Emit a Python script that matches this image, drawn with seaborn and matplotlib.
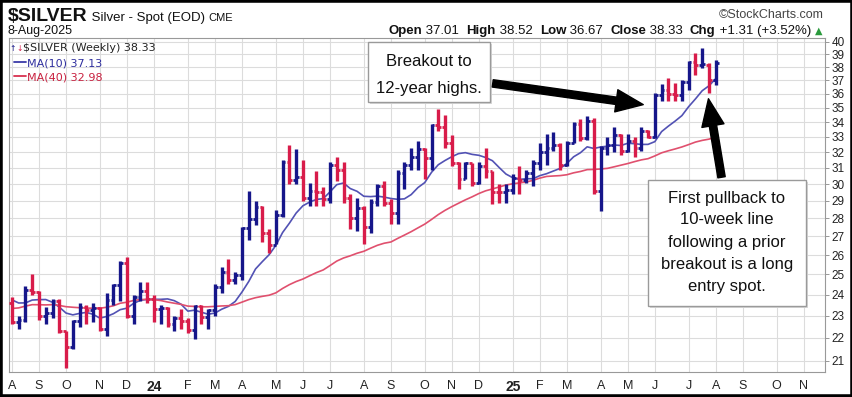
# Silver weekly OHLC chart with 10/40-week moving averages (StockCharts style)
import numpy as np
import pandas as pd
import matplotlib
matplotlib.use('Agg')
import matplotlib.pyplot as plt
import matplotlib.dates as mdates
from matplotlib.patches import Rectangle, FancyArrowPatch
from matplotlib.lines import Line2D
from matplotlib.ticker import FixedLocator, FuncFormatter, NullLocator
import seaborn as sns

# ---- data (weekly bars, Friday dates, 11-Aug-2023 .. 8-Aug-2025) ----
first_week = '2023-08-11'

opens = [23.60, 22.70, 22.80, 24.25, 24.15, 23.00, 23.15, 23.70, 22.30, 21.60,
         22.75, 23.40, 23.25, 23.35, 22.40, 23.75, 24.45, 25.60, 23.00, 23.90,
         24.20, 23.80, 23.30, 23.35, 22.60, 22.90, 22.75, 22.35, 23.45, 22.95,
         23.25, 24.35, 25.10, 24.70, 24.95, 27.45, 27.95, 28.65, 27.20, 26.55,
         28.20, 31.35, 30.25, 30.45, 29.15, 29.60, 29.50, 29.10, 31.20, 30.90,
         29.20, 28.00, 28.60, 27.50, 28.95, 29.90, 28.90, 28.30, 30.70, 31.20,
         31.70, 32.20, 31.60, 33.80, 33.70, 32.60, 31.30, 30.30, 31.30, 30.10,
         31.10, 30.80, 29.55, 29.50, 29.65, 30.35, 30.25, 30.70, 31.30, 32.00,
         32.30, 32.45, 31.20, 32.60, 33.90, 32.95, 34.10, 29.60, 32.30, 32.50,
         33.10, 32.10, 32.70, 32.30, 33.40, 33.00, 35.90, 36.30, 36.00, 35.95,
         36.90, 38.40, 38.20, 38.20, 37.01]

highs = [23.9, 23.0, 24.4, 25.0, 24.2, 23.4, 23.8, 23.8, 22.3, 22.8,
         23.6, 23.5, 23.6, 23.4, 24.1, 24.5, 25.7, 25.9, 24.0, 24.6,
         24.6, 24.0, 23.5, 23.4, 23.0, 23.3, 22.9, 23.5, 23.5, 23.3,
         24.5, 25.4, 25.8, 25.1, 27.5, 29.6, 29.0, 28.7, 27.4, 28.5,
         31.5, 32.5, 32.2, 31.5, 30.1, 30.8, 29.8, 31.4, 31.7, 31.4,
         29.4, 29.2, 28.7, 29.1, 30.0, 30.2, 29.1, 30.9, 31.4, 32.3,
         32.7, 32.3, 33.9, 34.9, 34.5, 33.1, 31.4, 31.4, 31.3, 31.4,
         32.3, 30.8, 30.0, 30.0, 30.6, 31.1, 30.9, 31.5, 32.6, 33.2,
         33.3, 32.6, 32.7, 34.0, 34.2, 34.4, 34.3, 32.4, 33.0, 33.7,
         33.2, 33.2, 33.0, 33.7, 33.5, 36.1, 36.7, 37.2, 36.8, 37.0,
         38.5, 39.1, 39.5, 38.3, 38.52]

lows = [22.6, 22.4, 22.7, 24.0, 22.8, 22.6, 22.9, 22.2, 20.7, 21.5,
        22.5, 22.6, 22.7, 22.3, 22.1, 23.5, 23.7, 22.9, 22.6, 23.7,
        23.6, 22.7, 22.6, 22.5, 22.3, 22.4, 22.2, 21.95, 22.6, 22.4,
        23.0, 24.1, 24.5, 24.5, 24.7, 26.8, 27.6, 26.7, 26.1, 26.6,
        28.1, 30.0, 30.0, 29.0, 28.7, 28.7, 28.7, 28.9, 30.2, 28.9,
        27.4, 27.3, 26.6, 27.2, 28.7, 28.7, 27.7, 27.7, 29.7, 30.9,
        30.9, 30.3, 30.9, 33.4, 32.3, 31.1, 29.7, 30.3, 29.9, 30.0,
        30.4, 28.8, 28.9, 28.9, 29.4, 29.4, 30.1, 29.9, 30.9, 31.2,
        32.1, 30.9, 31.1, 32.6, 32.7, 32.8, 29.4, 28.4, 31.8, 32.0,
        31.8, 32.0, 31.7, 32.1, 32.9, 32.9, 35.5, 35.5, 35.5, 35.5,
        36.3, 37.4, 37.9, 36.1, 36.67]

closes = [22.70, 22.80, 24.25, 24.15, 23.00, 23.15, 23.70, 22.30, 21.60, 22.75,
          23.40, 23.25, 23.35, 22.40, 23.75, 24.45, 25.60, 23.00, 23.90, 24.20,
          23.80, 23.30, 23.35, 22.60, 22.90, 22.75, 22.35, 23.45, 22.95, 23.25,
          24.35, 25.10, 24.70, 24.95, 27.45, 27.95, 28.65, 27.20, 26.55, 28.20,
          31.35, 30.25, 30.45, 29.15, 29.60, 29.50, 29.10, 31.20, 30.90, 29.20,
          28.00, 28.60, 27.50, 28.95, 29.90, 28.90, 28.30, 30.70, 31.20, 31.70,
          32.20, 31.60, 33.80, 33.70, 32.60, 31.30, 30.30, 31.30, 30.10, 31.10,
          30.80, 29.55, 29.50, 29.65, 30.35, 30.25, 30.70, 31.30, 32.00, 32.30,
          32.45, 31.20, 32.60, 33.90, 32.95, 34.10, 29.60, 32.30, 32.50, 33.10,
          32.10, 32.70, 32.30, 33.40, 33.00, 35.90, 36.30, 36.00, 35.95, 36.90,
          38.40, 38.20, 38.25, 37.02, 38.33]

# closes of the 39 weeks before the first bar (only needed for the averages)
prior_closes = [21.7, 20.9, 21.4, 23.1, 23.5, 23.2, 23.8, 24.0, 23.8, 24.3,
                23.9, 23.6, 22.4, 22.0, 21.6, 20.8, 21.0, 20.5, 22.6, 23.2,
                24.1, 25.0, 25.4, 25.2, 25.0, 25.6, 24.0, 23.7, 23.2, 23.6,
                24.3, 24.2, 22.8, 22.8, 23.1, 25.0, 24.6, 24.4, 23.6]

y_ticks = list(range(21, 41))
month_letters = ['J', 'F', 'M', 'A', 'M', 'J', 'J', 'A', 'S', 'O', 'N', 'D']

header_left = [('\\$SILVER', 14, 'bold'), (' Silver - Spot (EOD) ', 9.5, 'normal'), ('CME', 8, 'normal')]
header_right = [('Open', 'bold'), (' 37.01  ', 'normal'), ('High', 'bold'), (' 38.52  ', 'normal'),
                ('Low', 'bold'), (' 36.67  ', 'normal'), ('Close', 'bold'), (' 38.33  ', 'normal'),
                ('Chg', 'bold'), (' +1.31 (+3.52%) ', 'normal')]
legend_title = '\\$SILVER (Weekly) 38.33'
legend_ma10 = 'MA(10) 37.13'
legend_ma40 = 'MA(40) 32.98'

note1 = ['Breakout to', '12-year highs.']
note2 = ['First pullback to', '10-week line', 'following a prior', 'breakout is a long', 'entry spot.']

# ---- derived series ----
weeks = pd.date_range(first_week, periods=len(closes), freq='W-FRI')
x = mdates.date2num(weeks)
all_closes = pd.Series(prior_closes + closes)
ma10 = all_closes.rolling(10).mean().iloc[len(prior_closes):].to_numpy()
ma40 = all_closes.rolling(40).mean().iloc[len(prior_closes):].to_numpy()
prev = np.array([prior_closes[-1]] + closes[:-1])

UP, DOWN = '#16168a', '#d81c4a'
bar_colors = [UP if c > p else DOWN for c, p in zip(closes, prev)]

# ---- figure ----
W, H = 853, 397
sns.set_style("white")
NARROW = ['Liberation Sans Narrow', 'Liberation Sans', 'DejaVu Sans']
plt.rcParams['font.family'] = NARROW

fig = plt.figure(figsize=(W / 100, H / 100), dpi=100)
fig.patch.set_facecolor('white')


def px(xp, yp):
    return xp / W, 1 - yp / H


left, right, top, bottom = 9, 825, 38, 372
ax = fig.add_axes([left / W, 1 - bottom / H, (right - left) / W, (bottom - top) / H])

# OHLC bars
ax.vlines(x, lows, highs, colors=bar_colors, linewidth=2.4, zorder=3)
ax.hlines(opens, x - 2.9, x, colors=bar_colors, linewidth=2.0, zorder=3)
ax.hlines(closes, x, x + 2.9, colors=bar_colors, linewidth=2.0, zorder=3)

# moving averages
sns.lineplot(x=x, y=ma10, ax=ax, color='#5252b4', linewidth=1.2, legend=False, zorder=2)
sns.lineplot(x=x, y=ma40, ax=ax, color='#e0506e', linewidth=1.2, legend=False, zorder=2)

# y axis (log, right side)
ax.set_yscale('log')
ax.set_ylim(20.53, 40.3)
ax.yaxis.tick_right()
ax.yaxis.set_major_locator(FixedLocator(y_ticks))
ax.yaxis.set_major_formatter(FuncFormatter(lambda v, p: f'{v:.0f}'))
ax.yaxis.set_minor_locator(NullLocator())
ax.tick_params(axis='y', which='major', length=3, width=0.6, color='#888888',
               pad=1.5, labelsize=8.5, labelcolor='#222222')

# x axis: month marks at the first week starting in each month
axis_weeks = pd.date_range(first_week, '2025-11-28', freq='W-FRI')
mondays = axis_weeks - pd.Timedelta(days=4)
tick_pos, tick_lab, tick_bold = [], [], []
last_month = None
for d, m in zip(axis_weeks, mondays):
    if m.month != last_month:
        tick_pos.append(mdates.date2num(d))
        if m.month == 1:
            tick_lab.append(f'{m.year % 100}')
            tick_bold.append(True)
        else:
            tick_lab.append(month_letters[m.month - 1])
            tick_bold.append(False)
        last_month = m.month

ax.set_xlim(mdates.date2num(pd.Timestamp('2023-08-08')), mdates.date2num(pd.Timestamp('2025-11-29')))
ax.set_xticks(tick_pos)
ax.set_xticklabels(tick_lab)
ax.xaxis.set_minor_locator(FixedLocator(mdates.date2num(axis_weeks)))
ax.tick_params(axis='x', which='major', length=4, width=0.6, color='#888888',
               pad=2, labelsize=9, labelcolor='#222222')
ax.tick_params(axis='x', which='minor', length=2, width=0.5, color='#aaaaaa')
for lab, b in zip(ax.get_xticklabels(), tick_bold):
    if b:
        lab.set_fontweight('bold')
        lab.set_fontsize(10)

ax.grid(True, which='major', color='#dcdcdc', linewidth=0.8, zorder=0)
ax.set_axisbelow(True)
for s in ax.spines.values():
    s.set_color('#999999')
    s.set_linewidth(0.8)
ax.set_xlabel('')
ax.set_ylabel('')

# ---- header ----
renderer = fig.canvas.get_renderer()
xc = 8
for txt, size, weight in header_left:
    t = fig.text(*px(xc, 21), txt, fontsize=size, fontweight=weight, va='baseline', ha='left', color='#111111')
    xc += t.get_window_extent(renderer).width
fig.text(*px(8, 34), '8-Aug-2025', fontsize=9, va='baseline', ha='left', color='#111111')
fig.text(*px(824, 18), '\u00a9StockCharts.com', fontsize=9, va='baseline', ha='right', color='#444444')

pieces = []
for txt, weight in header_right:
    t = fig.text(0, 0, txt, fontsize=9.5, fontweight=weight, va='baseline', ha='left', color='#111111')
    pieces.append(t)
tri = fig.text(0, 0, '\u25b2', fontsize=7, va='baseline', ha='left', color='#2a9a3c', family='DejaVu Sans')
pieces.append(tri)
widths = [p.get_window_extent(renderer).width for p in pieces]
xc = 822 - sum(widths)
for p, w in zip(pieces, widths):
    p.set_position(px(xc, 34))
    xc += w

# ---- in-chart legend ----
fig.text(*px(9.5, 51), '\u2191', fontsize=5.5, color=UP, family='DejaVu Sans', va='baseline')
fig.text(*px(16, 51), '\u2193', fontsize=5.5, color=DOWN, family='DejaVu Sans', va='baseline')
fig.text(*px(23, 51), legend_title, fontsize=8, color='#222222', family='DejaVu Sans', va='baseline')
fig.add_artist(Line2D([14 / W, 26 / W], [1 - 62 / H, 1 - 62 / H], color='#3a3aa8', lw=1.3))
fig.text(*px(27, 66), legend_ma10, fontsize=8, color='#2e2e9e', family='DejaVu Sans', va='baseline')
fig.add_artist(Line2D([14 / W, 26 / W], [1 - 76 / H, 1 - 76 / H], color='#d8304f', lw=1.3))
fig.text(*px(27, 80), legend_ma40, fontsize=8, color='#c8203f', family='DejaVu Sans', va='baseline')


# ---- annotation boxes and arrows ----
def note_box(x0, y0, x1, y1, lines, ys, xc):
    fig.add_artist(Rectangle(px(x0 + 2, y1 + 2), (x1 - x0) / W, (y1 - y0) / H,
                             transform=fig.transFigure, facecolor='#d8d8d8', edgecolor='none', zorder=5))
    fig.add_artist(Rectangle(px(x0, y1), (x1 - x0) / W, (y1 - y0) / H,
                             transform=fig.transFigure, facecolor='white', edgecolor='#9a9a9a',
                             linewidth=1.0, zorder=6))
    for ln, yy in zip(lines, ys):
        fig.text(*px(xc, yy), ln, fontsize=12, ha='center', va='center', color='#111111',
                 family=['Liberation Sans', 'DejaVu Sans'], zorder=7)


note_box(368, 42, 490, 102, note1, [62, 88], 429)
note_box(648, 180, 806, 306, note2, [198, 220, 242, 265, 287], 727)


def arrow(p0, p1):
    fig.add_artist(FancyArrowPatch(px(*p0), px(*p1), transform=fig.transFigure,
                                   arrowstyle='simple,head_length=1.4,head_width=1.15,tail_width=0.38',
                                   mutation_scale=14, color='black', zorder=8))


arrow((490, 83), (646, 105))
arrow((722, 180), (708, 96))

# outer frame
fig.add_artist(Rectangle((0, 0), 1, 1, transform=fig.transFigure, fill=False,
                         edgecolor='black', linewidth=4, zorder=10))

plt.savefig('out.png', dpi=100)
